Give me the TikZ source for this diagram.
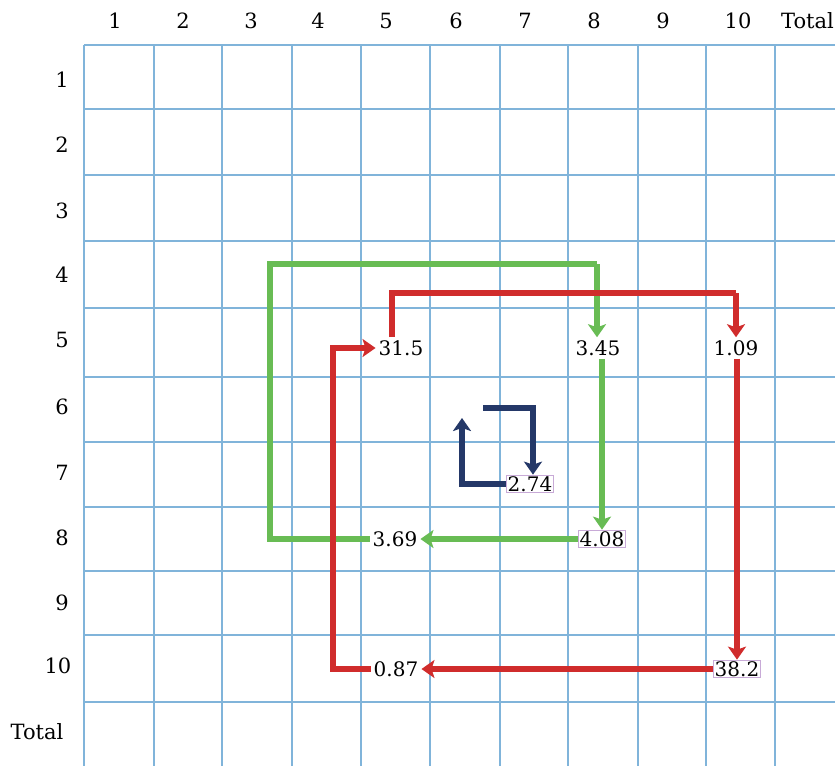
\documentclass[tikz,border=0pt]{standalone}
\usepackage{fontspec}
\setmainfont{DejaVu Serif}
\usetikzlibrary{arrows.meta}
\definecolor{gridblue}{RGB}{128,180,218}
\definecolor{agreen}{RGB}{104,188,84}
\definecolor{ared}{RGB}{208,44,44}
\definecolor{anavy}{RGB}{36,56,104}
\definecolor{boxline}{RGB}{200,170,215}
\begin{document}
\begin{tikzpicture}[x=1pt,y=-1pt,
  gridline/.style={gridblue, line width=2.8pt},
  axislabel/.style={font=\fontsize{21}{24}\selectfont, inner sep=0pt},
  val/.style={font=\fontsize{20}{24}\selectfont, inner sep=3pt},
  valbox/.style={font=\fontsize{20}{24}\selectfont, draw=boxline, line width=1.2pt, fill=white, inner sep=1.2pt},
  flow/.style={line width=6pt, line join=miter, -{Stealth[length=13pt,width=18pt,inset=3pt]}},
  plain/.style={line width=6pt, line join=miter}]
\useasboundingbox (0,0) rectangle (835,766);
\clip (0,0) rectangle (835,766);
\fill[white] (0,0) rectangle (835,766);
% grid
\foreach \x in {84,154,222,292,361,430,500,568,638,706,775}
  \draw[gridline] (\x,45) -- (\x,766);
\foreach \y in {45,109,175,241,308,377,442,507,571,635,702}
  \draw[gridline] (84,\y) -- (835,\y);
% column labels
\foreach \x/\t [count=\i] in {115/1,183/2,251/3,318/4,386/5,456/6,525/7,594/8,663/9,738/10}
  \node[axislabel] (col\i) at (\x,21) {\t};
\node[axislabel, anchor=east] (coltot) at (834,21) {Total};
% row labels
\foreach \y/\t [count=\i] in {80/1,145/2,211/3,275/4,340/5,407/6,473/7,538/8,603/9}
  \node[axislabel] (row\i) at (62,\y) {\t};
\node[axislabel] (row10) at (58,666) {10};
\node[axislabel] (rowtot) at (37,732) {Total};
% values
\node[val] (v315) at (401,348) {31.5};
\node[val] (v345) at (598,348) {3.45};
\node[val] (v109) at (736,348) {1.09};
\node[val] (v369) at (395,539) {3.69};
\node[val] (v087) at (396,669) {0.87};
\node[valbox] (v408) at (602,539) {4.08};
\node[valbox] (v382) at (737,669) {38.2};
\node[valbox] (v274) at (530,484) {2.74};
% corner coordinates
\coordinate (g1) at (270,539);
\coordinate (g2) at (270,264);
\coordinate (g3) at (597,264);
\coordinate (r1) at (392,293);
\coordinate (r2) at (736,293);
\coordinate (r3) at (333,669);
\coordinate (r4) at (333,348);
\coordinate (n0) at (483,408);
\coordinate (n1) at (533,408);
\coordinate (n3) at (462,418);
% green loop
\draw[plain, agreen] (v369.west) -- (g1) -- (g2) -- (g3);
\draw[flow, agreen] (g3) -- (v345.north -| g3);
\draw[flow, agreen] (v345.south -| v408.north) -- (v408.north);
\draw[flow, agreen] (v408.west) -- (v369.east);
% red loop
\draw[plain, ared] (v315.north -| r1) -- (r1) -- (r2);
\draw[flow, ared] (r2) -- (v109.north -| r2);
\draw[flow, ared] (v109.south -| v382.north) -- (v382.north);
\draw[flow, ared] (v382.west) -- (v087.east);
\draw[flow, ared] (v087.west) -- (r3) -- (r4) -- (v315.west);
% navy cycle
\draw[flow, anavy] (n0) -- (n1) -- (v274.north -| n1);
\draw[flow, anavy] (v274.west) -- (v274.west -| n3) -- (n3);
\end{tikzpicture}
\end{document}
